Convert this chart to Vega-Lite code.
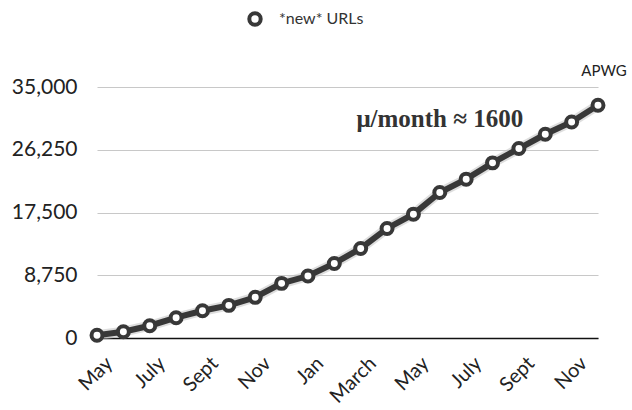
{
  "$schema": "https://vega.github.io/schema/vega-lite/v6.json",
  "width": 501,
  "height": 251,
  "autosize": "none",
  "padding": {"left": 97, "top": 87, "right": 34, "bottom": 72},
  "background": "white",
  "config": {
    "view": {"stroke": null},
    "font": "Lato",
    "axis": {"labelFont": "Lato", "labelColor": "#222222"},
    "legend": {
      "title": null,
      "orient": "none",
      "legendX": 150,
      "legendY": -76,
      "labelFontSize": 16,
      "labelColor": "#333333",
      "labelFont": "Lato",
      "symbolType": "circle",
      "symbolSize": 130,
      "symbolStrokeWidth": 4,
      "symbolFillColor": "white",
      "symbolStrokeColor": "#3a3a3a",
      "labelOffset": 16
    }
  },
  "datasets": {
    "urls": [
      {"m": "2007-05", "label": "May", "count": 380, "series": "*new* URLs"},
      {"m": "2007-06", "label": "June", "count": 880, "series": "*new* URLs"},
      {"m": "2007-07", "label": "July", "count": 1710, "series": "*new* URLs"},
      {"m": "2007-08", "label": "Aug", "count": 2830, "series": "*new* URLs"},
      {"m": "2007-09", "label": "Sept", "count": 3800, "series": "*new* URLs"},
      {"m": "2007-10", "label": "Oct", "count": 4550, "series": "*new* URLs"},
      {"m": "2007-11", "label": "Nov", "count": 5670, "series": "*new* URLs"},
      {"m": "2007-12", "label": "Dec", "count": 7620, "series": "*new* URLs"},
      {"m": "2008-01", "label": "Jan", "count": 8640, "series": "*new* URLs"},
      {"m": "2008-02", "label": "Feb", "count": 10400, "series": "*new* URLs"},
      {"m": "2008-03", "label": "March", "count": 12490, "series": "*new* URLs"},
      {"m": "2008-04", "label": "Apr", "count": 15280, "series": "*new* URLs"},
      {"m": "2008-05", "label": "May", "count": 17270, "series": "*new* URLs"},
      {"m": "2008-06", "label": "June", "count": 20290, "series": "*new* URLs"},
      {"m": "2008-07", "label": "July", "count": 22150, "series": "*new* URLs"},
      {"m": "2008-08", "label": "Aug", "count": 24420, "series": "*new* URLs"},
      {"m": "2008-09", "label": "Sept", "count": 26420, "series": "*new* URLs"},
      {"m": "2008-10", "label": "Oct", "count": 28410, "series": "*new* URLs"},
      {"m": "2008-11", "label": "Nov", "count": 30130, "series": "*new* URLs"},
      {"m": "2008-12", "label": "Dec", "count": 32450, "series": "*new* URLs"}
    ],
    "notes": [
      {"m": "2008-06", "count": 30600, "text": "μ/month ≈ 1600", "kind": "mu"},
      {"m": "2008-12", "count": 37300, "text": "APWG", "kind": "src"}
    ]
  },
  "data": {"name": "urls"},
  "encoding": {
    "x": {
      "field": "m",
      "type": "ordinal",
      "sort": null,
      "scale": {"type": "point", "padding": 0},
      "axis": {
        "title": null,
        "values": ["2007-05", "2007-07", "2007-09", "2007-11", "2008-01", "2008-03", "2008-05", "2008-07", "2008-09", "2008-11"],
        "labelExpr": "{'2007-05':'May','2007-07':'July','2007-09':'Sept','2007-11':'Nov','2008-01':'Jan','2008-03':'March','2008-05':'May','2008-07':'July','2008-09':'Sept','2008-11':'Nov'}[datum.value]",
        "labelAngle": -45,
        "labelAlign": "right",
        "labelBaseline": "middle",
        "labelFontSize": 20,
        "labelPadding": 22,
        "labelOffset": 12,
        "ticks": false,
        "grid": false,
        "domainColor": "#111111",
        "domainWidth": 1.5
      }
    },
    "y": {
      "field": "count",
      "type": "quantitative",
      "scale": {"domain": [0, 35000], "nice": false},
      "axis": {
        "title": null,
        "values": [0, 8750, 17500, 26250, 35000],
        "format": ",d",
        "labelFontSize": 21,
        "labelPadding": 20,
        "ticks": false,
        "domain": false,
        "gridColor": "#c8c8c8",
        "gridWidth": 1.2
      }
    }
  },
  "layer": [
    {
      "mark": {"type": "line", "strokeWidth": 10, "color": "#bdbdbd", "opacity": 0.5},
      "encoding": {}
    },
    {
      "mark": {"type": "line", "strokeWidth": 6},
      "encoding": {
        "color": {"field": "series", "type": "nominal", "scale": {"range": ["#383838"]}}
      }
    },
    {
      "mark": {"type": "point", "filled": false, "fill": "white", "fillOpacity": 1, "strokeWidth": 4, "size": 120, "opacity": 1},
      "encoding": {
        "color": {"field": "series", "type": "nominal", "scale": {"range": ["#383838"]}}
      }
    },
    {
      "data": {"name": "notes"},
      "transform": [{"filter": "datum.kind == 'mu'"}],
      "mark": {"type": "text", "font": "Liberation Serif", "fontWeight": "bold", "fontSize": 25, "color": "#333333", "align": "center", "baseline": "middle"},
      "encoding": {"text": {"field": "text"}}
    },
    {
      "data": {"name": "notes"},
      "transform": [{"filter": "datum.kind == 'src'"}],
      "mark": {"type": "text", "font": "Lato", "fontSize": 15, "color": "#222222", "align": "center", "baseline": "middle", "dx": 6},
      "encoding": {"text": {"field": "text"}}
    }
  ]
}
